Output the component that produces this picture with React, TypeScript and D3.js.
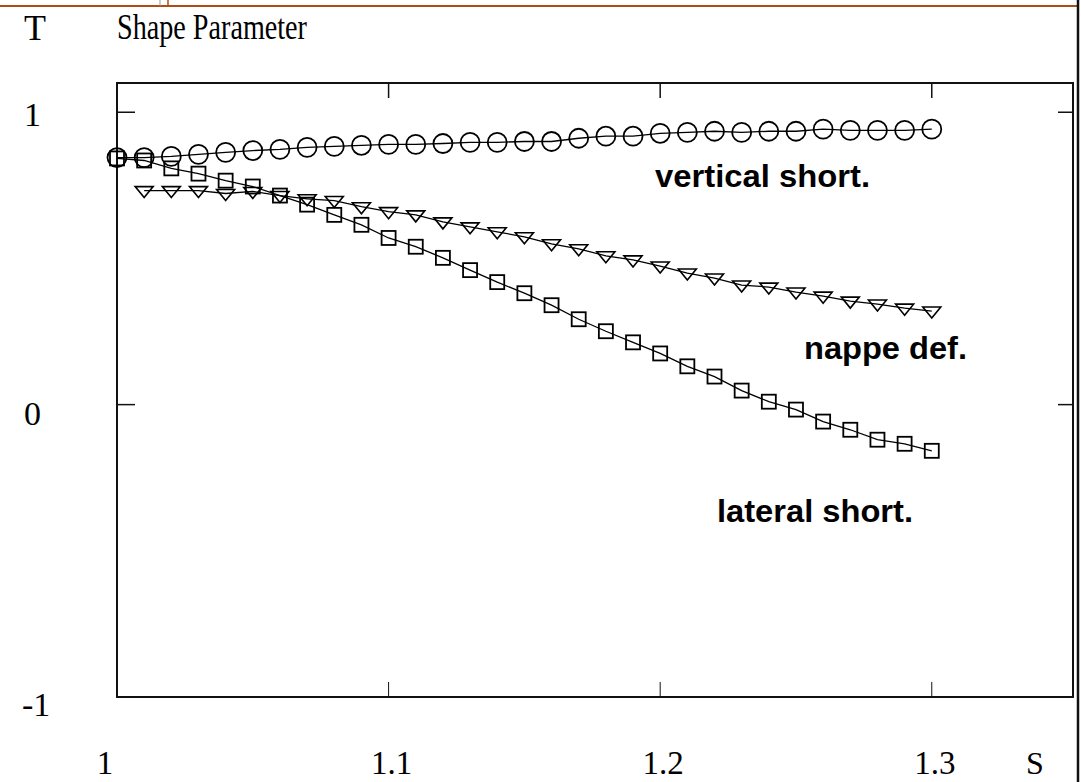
import React from 'react';
import * as d3 from 'd3';

// S grid (x) and the three curves
const sValues = [
  1.00, 1.01, 1.02, 1.03, 1.04, 1.05, 1.06, 1.07, 1.08, 1.09, 1.10,
  1.11, 1.12, 1.13, 1.14, 1.15, 1.16, 1.17, 1.18, 1.19, 1.20,
  1.21, 1.22, 1.23, 1.24, 1.25, 1.26, 1.27, 1.28, 1.29, 1.30,
];

const verticalShort = [
  0.845, 0.845, 0.849, 0.856, 0.863, 0.869, 0.873, 0.880, 0.883, 0.887, 0.890,
  0.890, 0.893, 0.897, 0.897, 0.900, 0.900, 0.911, 0.918, 0.918, 0.928,
  0.931, 0.935, 0.931, 0.935, 0.935, 0.942, 0.938, 0.938, 0.938, 0.942,
];

const nappeDef: (number | null)[] = [
  null, 0.732, 0.732, 0.732, 0.722, 0.729, 0.715, 0.704, 0.698, 0.677, 0.660,
  0.649, 0.625, 0.608, 0.591, 0.574, 0.550, 0.533, 0.509, 0.495, 0.474,
  0.450, 0.433, 0.409, 0.402, 0.385, 0.371, 0.354, 0.344, 0.330, 0.320,
];

const lateralShort = [
  0.842, 0.835, 0.808, 0.790, 0.766, 0.746, 0.715, 0.684, 0.649, 0.615, 0.570,
  0.540, 0.502, 0.460, 0.419, 0.381, 0.340, 0.292, 0.251, 0.213, 0.175,
  0.131, 0.096, 0.048, 0.010, -0.017, -0.058, -0.086, -0.120, -0.134, -0.158,
];

const xTicks = [1, 1.1, 1.2, 1.3];
const xTickLabels = ['1', '1.1', '1.2', '1.3'];
const yTicks = [1, 0, -1];
const yTickLabels = ['1', '0', '-1'];

const W = 1081;
const H = 782;

const serif = '"Liberation Serif", "Times New Roman", serif';
const sans = '"Liberation Sans", Arial, sans-serif';

const App: React.FC = () => {
  const x = d3.scaleLinear().domain([1, 1.352]).range([117, 1073]);
  const y = d3.scaleLinear().domain([-1, 1.1]).range([697, 83]);

  const [x0, x1] = x.range();
  const [y0, y1] = y.range();

  const toPts = (vals: (number | null)[]) =>
    vals.map((v, i) => ({ s: sValues[i], v })).filter(d => d.v !== null) as { s: number; v: number }[];

  const line = d3.line<{ s: number; v: number }>()
    .x(d => x(d.s))
    .y(d => y(d.v));

  const circles = toPts(verticalShort);
  const tris = toPts(nappeDef);
  const squares = toPts(lateralShort);

  const triPath = (cx: number, cy: number) =>
    `M${cx - 9},${cy - 4}L${cx + 9},${cy - 4}L${cx},${cy + 7}Z`;

  return (
    <svg width={W} height={H} style={{ position: 'absolute', left: 0, top: 0, background: '#fff' }}>
      <rect width={W} height={H} fill="#fff" />

      {/* scan edges */}
      <line x1={0} x2={1078} y1={6} y2={6} stroke="#b24a14" strokeWidth={2} />
      <line x1={160} x2={160} y1={0} y2={6} stroke="#999" strokeWidth={1} />
      <line x1={168} x2={168} y1={0} y2={6} stroke="#b24a14" strokeWidth={1.5} />
      <line x1={1078} x2={1078} y1={0} y2={H} stroke="#111" strokeWidth={2.5} />

      {/* frame */}
      <rect x={x0} y={y1} width={x1 - x0} height={y0 - y1} fill="none" stroke="#111" strokeWidth={2} />

      {/* ticks */}
      {xTicks.slice(1).map(t => (
        <g key={`xt${t}`}>
          <line x1={x(t)} x2={x(t)} y1={y1} y2={y1 + 15} stroke="#111" strokeWidth={1.5} />
          <line x1={x(t)} x2={x(t)} y1={y0} y2={y0 - 15} stroke="#111" strokeWidth={1} />
        </g>
      ))}
      {yTicks.slice(0, 2).map(t => (
        <g key={`yt${t}`}>
          <line x1={x0} x2={x0 + 18} y1={y(t)} y2={y(t)} stroke="#111" strokeWidth={1.5} />
          <line x1={x1} x2={x1 - 15} y1={y(t)} y2={y(t)} stroke="#111" strokeWidth={1.5} />
        </g>
      ))}

      {/* axis labels */}
      {xTicks.map((t, i) => (
        <text key={`xl${t}`} x={t === 1 ? x(t) - 12 : x(t) + 3} y={774} textAnchor="middle"
          fontFamily={serif} fontSize={33} fill="#000">{xTickLabels[i]}</text>
      ))}
      <text x={1035} y={774} textAnchor="middle" fontFamily={serif} fontSize={32} fill="#000">S</text>
      {yTicks.map((t, i) => (
        <text key={`yl${t}`} x={t === -1 ? 22 : 24} y={y(t) + (t === 1 ? 14 : t === 0 ? 20 : 19)}
          fontFamily={serif} fontSize={34} fill="#000">{yTickLabels[i]}</text>
      ))}
      <text x={24} y={40} fontFamily={serif} fontSize={36} fill="#000">T</text>
      <text x={117} y={39} fontFamily={serif} fontSize={36} fill="#000"
        textLength={190} lengthAdjust="spacingAndGlyphs">Shape Parameter</text>

      {/* curves */}
      <path d={line(circles) || ''} fill="none" stroke="#000" strokeWidth={1.3} />
      <path d={line(tris) || ''} fill="none" stroke="#000" strokeWidth={1.3} />
      <path d={line(squares) || ''} fill="none" stroke="#000" strokeWidth={1.3} />

      {circles.map(d => (
        <circle key={`c${d.s}`} cx={x(d.s)} cy={y(d.v)} r={9.5} fill="none" stroke="#000" strokeWidth={1.8} />
      ))}
      {tris.map(d => (
        <path key={`t${d.s}`} d={triPath(x(d.s), y(d.v))} fill="none" stroke="#000" strokeWidth={1.6} />
      ))}
      {squares.map(d => (
        <rect key={`s${d.s}`} x={x(d.s) - 7} y={y(d.v) - 7} width={14} height={14}
          fill="none" stroke="#000" strokeWidth={1.8} />
      ))}

      {/* series labels */}
      <text x={655} y={187} fontFamily={sans} fontWeight="bold" fontSize={31}
        textLength={215} lengthAdjust="spacingAndGlyphs" fill="#000">vertical short.</text>
      <text x={804} y={359} fontFamily={sans} fontWeight="bold" fontSize={31}
        textLength={163} lengthAdjust="spacingAndGlyphs" fill="#000">nappe def.</text>
      <text x={717} y={522} fontFamily={sans} fontWeight="bold" fontSize={31}
        textLength={196} lengthAdjust="spacingAndGlyphs" fill="#000">lateral short.</text>
    </svg>
  );
};

export default App;
